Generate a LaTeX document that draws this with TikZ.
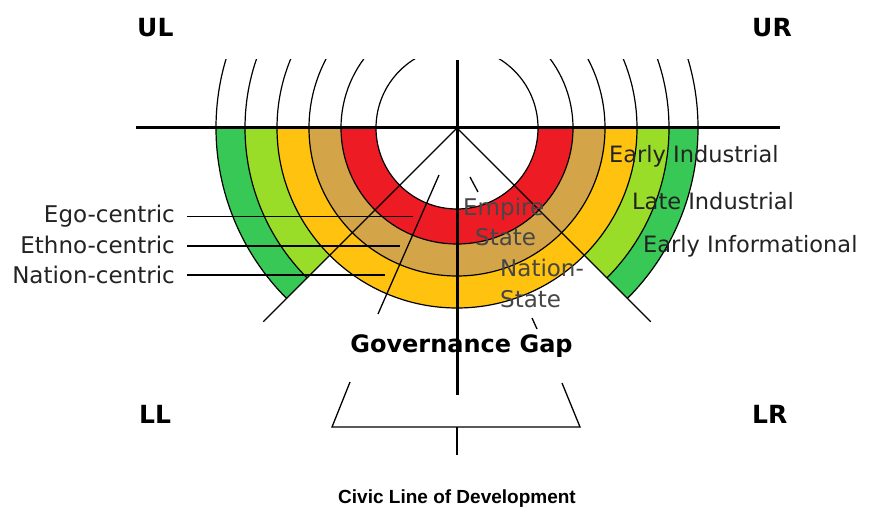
\documentclass[tikz,border=0pt]{standalone}
\usepackage{fontspec}
\setmainfont{DejaVu Sans}
\newfontfamily\titlefont{Liberation Sans}
\usetikzlibrary{calc}
\definecolor{ringred}{RGB}{237,28,36}
\definecolor{ringtan}{RGB}{212,165,72}
\definecolor{ringorange}{RGB}{255,194,14}
\definecolor{ringlime}{RGB}{153,221,40}
\definecolor{ringgreen}{RGB}{55,200,85}
\definecolor{labelgray}{RGB}{35,35,35}
\definecolor{innergray}{RGB}{70,70,70}
\newcommand{\ringsector}[5]{%
  \fill[#1] ($(C)+(#4:#3)$) arc[start angle=#4, end angle=#5, radius=#3]
    -- ($(C)+(#5:#2)$) arc[start angle=#5, end angle=#4, radius=#2] -- cycle;}
\tikzset{
  axis/.style={line width=3pt, black},
  thin line/.style={line width=1.3pt, black},
  ring line/.style={line width=1.2pt, black},
  lbl/.style={font=\fontsize{23}{26}\selectfont, text=labelgray, inner sep=0pt},
  rlbl/.style={font=\fontsize{22.5}{26}\selectfont, text=labelgray, inner sep=0pt},
  ilbl/.style={font=\fontsize{23}{26}\selectfont, text=innergray, inner sep=0pt},
  quad/.style={font=\bfseries\fontsize{25}{28}\selectfont, inner sep=0pt},
  gap/.style={font=\bfseries\fontsize{24}{28}\selectfont, inner sep=0pt},
  ttl/.style={font=\titlefont\bfseries\fontsize{19}{22}\selectfont, inner sep=0pt}
}
\begin{document}
\begin{tikzpicture}[x=1pt,y=1pt]
\useasboundingbox (0,0) rectangle (877,522);
\fill[white] (0,0) rectangle (877,522);
\coordinate (C) at (457,394);
% coloured rings
\ringsector{ringred}{81}{116}{180}{360}
\ringsector{ringtan}{116}{148}{180}{360}
\ringsector{ringorange}{148}{180}{180}{360}
\ringsector{ringlime}{180}{212}{180}{225}
\ringsector{ringlime}{180}{212}{315}{360}
\ringsector{ringgreen}{212}{241}{180}{225}
\ringsector{ringgreen}{212}{241}{315}{360}
% upper arcs
\begin{scope}
\clip (0,394) rectangle (877,462);
\foreach \r in {81,116,148,180,212,241}{\draw[ring line] (C) circle[radius=\r];}
\end{scope}
% lower arcs
\foreach \r in {81,116,148,180}{\draw[ring line] ($(C)+(180:\r)$) arc[start angle=180,end angle=360,radius=\r];}
\foreach \r in {212,241}{
  \draw[ring line] ($(C)+(180:\r)$) arc[start angle=180,end angle=225,radius=\r];
  \draw[ring line] ($(C)+(315:\r)$) arc[start angle=315,end angle=360,radius=\r];}
% diagonals
\coordinate (DL) at ($(C)+(225:274)$);
\coordinate (DR) at ($(C)+(315:274)$);
\draw[thin line] (C) -- (DL);
\draw[thin line] (C) -- (DR);
% axes
\coordinate (HL) at (136,394);
\coordinate (HR) at (780,394);
\coordinate (VT) at (457,462);
\coordinate (VB) at (457,127);
\draw[axis] (HL) -- (HR);
\draw[axis] (VT) -- (VB);
% left labels and leaders
\node[lbl, anchor=base east] (ego) at (175,299) {Ego-centric};
\node[lbl, anchor=base east] (ethno) at (175,268.5) {Ethno-centric};
\node[lbl, anchor=base east] (nation) at (175,238) {Nation-centric};
\coordinate (egoE) at (413,305.5);
\coordinate (ethnoE) at (400,276);
\coordinate (nationE) at (385,247);
\draw[thin line] (187,305.5) coordinate (egoS) -- (egoE);
\draw[thin line] (187,276) coordinate (ethnoS) -- (ethnoE);
\draw[thin line] (187,247) coordinate (nationS) -- (nationE);
% right labels
\node[rlbl, anchor=base west] (ei) at (609,359) {Early Industrial};
\node[rlbl, anchor=base west] (li) at (632,312) {Late Industrial};
\node[rlbl, anchor=base west] (einf) at (643,269) {Early Informational};
% inner labels
\node[ilbl, anchor=base west] (emp) at (463,306) {Empire};
\node[ilbl, anchor=base west] (emps) at (475,276) {State};
\node[ilbl, anchor=base west] (nat) at (500,245) {Nation-};
\node[ilbl, anchor=base west] (nats) at (500,214) {State};
% pointer lines
\coordinate (p1a) at (439,347); \coordinate (p1b) at (378,208);
\coordinate (p2a) at (470,345); \coordinate (p2b) at (478,330);
\coordinate (p3a) at (532,204); \coordinate (p3b) at (537,193);
\draw[thin line] (p1a) -- (p1b);
\draw[thin line] (p2a) -- (p2b);
\draw[thin line] (p3a) -- (p3b);
% governance gap
\node[gap, anchor=base] (gg) at (461.5,169) {Governance Gap};
% bracket
\coordinate (b1) at (350,140); \coordinate (b2) at (332,95);
\coordinate (b3) at (580,95); \coordinate (b4) at (562,139);
\coordinate (s1) at (457,95); \coordinate (s2) at (457,67);
\draw[thin line] (b1) -- (b2) -- (b3) -- (b4);
\draw[thin line] (s1) -- (s2);
% quadrant labels
\node[quad, anchor=base west] (UL) at (137,485) {UL};
\node[quad, anchor=base west] (UR) at (752,485) {UR};
\node[quad, anchor=base west] (LL) at (139,99) {LL};
\node[quad, anchor=base west] (LR) at (752,99) {LR};
% title
\node[ttl, anchor=base] (title) at (457,19) {Civic Line of Development};
\end{tikzpicture}
\end{document}
